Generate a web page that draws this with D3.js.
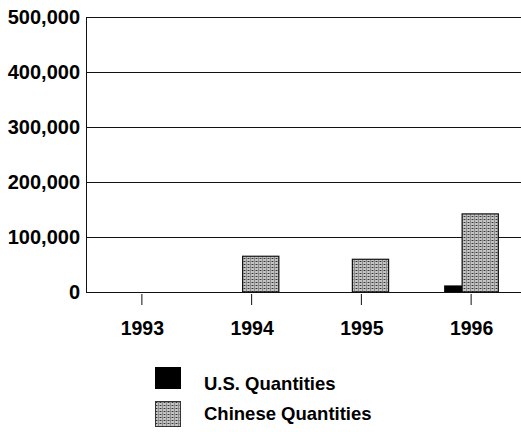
<!DOCTYPE html>
<html>
<head>
<meta charset="utf-8">
<script src="https://cdnjs.cloudflare.com/ajax/libs/d3/7.8.5/d3.min.js"></script>
<style>
  html, body { margin: 0; padding: 0; background: #fff; }
  svg { display: block; }
  text { font-family: "Liberation Sans", Arial, sans-serif; font-weight: bold; fill: #000; }
</style>
</head>
<body>
<svg id="chart" width="521" height="432"></svg>
<script>
const years = ["1993", "1994", "1995", "1996"];
const usQuantities = [0, 0, 0, 12000];
const chineseQuantities = [0, 65000, 59500, 142000];
const yTicks = [0, 100000, 200000, 300000, 400000, 500000];
const seriesNames = ["U.S. Quantities", "Chinese Quantities"];

const svg = d3.select("#chart");
const defs = svg.append("defs");
const pat = defs.append("pattern")
  .attr("id", "dots").attr("patternUnits", "userSpaceOnUse")
  .attr("width", 4).attr("height", 3);
pat.append("rect").attr("width", 4).attr("height", 3).attr("fill", "#c4c4c4");
pat.append("rect").attr("x", 0).attr("y", 0).attr("width", 4).attr("height", 1).attr("fill", "#8a8a8a");
pat.append("rect").attr("x", 0).attr("y", 0).attr("width", 1).attr("height", 1).attr("fill", "#333");
pat.append("rect").attr("x", 2).attr("y", 1.5).attr("width", 1).attr("height", 1).attr("fill", "#555");

const mLeft = 86, mRight = 526, mTop = 17, mBottom = 292;
const x = d3.scaleBand().domain(years).range([mLeft + 1, mRight]).padding(0);
const y = d3.scaleLinear().domain([0, 500000]).range([mBottom, mTop]);
const step = x.step();

// gridlines
svg.append("g").selectAll("line").data(yTicks).join("line")
  .attr("x1", mLeft).attr("x2", 521)
  .attr("y1", d => Math.round(y(d)) + 0.5).attr("y2", d => Math.round(y(d)) + 0.5)
  .attr("stroke", "#111").attr("stroke-width", 1);

// y axis line
svg.append("line").attr("x1", mLeft + 0.5).attr("x2", mLeft + 0.5)
  .attr("y1", mTop).attr("y2", mBottom + 0.5).attr("stroke", "#111");

// y tick labels
svg.append("g").selectAll("text").data(yTicks).join("text")
  .attr("x", 80).attr("y", d => y(d))
  .attr("dy", "0.37em").attr("text-anchor", "end")
  .style("font-size", "20px")
  .text(d => d3.format(",")(d));

// bars
const centers = years.map(yr => x(yr) + step / 2);
svg.append("g").selectAll("rect").data(years).join("rect")
  .attr("x", (d, i) => centers[i] - step * 0.246)
  .attr("width", step * 0.164)
  .attr("y", (d, i) => y(usQuantities[i]))
  .attr("height", (d, i) => y(0) - y(usQuantities[i]))
  .attr("fill", "#000");
svg.append("g").selectAll("rect").data(years).join("rect")
  .attr("x", (d, i) => centers[i] - step * 0.082)
  .attr("width", step * 0.33)
  .attr("y", (d, i) => y(chineseQuantities[i]))
  .attr("height", (d, i) => y(0) - y(chineseQuantities[i]))
  .attr("fill", "url(#dots)")
  .attr("stroke", (d, i) => chineseQuantities[i] > 0 ? "#111" : "none")
  .attr("stroke-width", 1.2);

// x ticks & labels
const xg = svg.append("g");
xg.selectAll("line").data(years).join("line")
  .attr("x1", (d, i) => centers[i]).attr("x2", (d, i) => centers[i])
  .attr("y1", 294).attr("y2", 305).attr("stroke", "#111");
xg.selectAll("text").data(years).join("text")
  .attr("x", (d, i) => centers[i] + 0.5).attr("y", 335)
  .attr("text-anchor", "middle").style("font-size", "19.5px")
  .text(d => d);

// legend
const lg = svg.append("g");
lg.append("rect").attr("x", 155).attr("y", 367).attr("width", 26).attr("height", 22).attr("fill", "#000");
lg.append("rect").attr("x", 155.5).attr("y", 401.5).attr("width", 25).attr("height", 25)
  .attr("fill", "url(#dots)").attr("stroke", "#333").attr("stroke-width", 1);
lg.append("text").attr("x", 204).attr("y", 390).style("font-size", "18.5px").text(seriesNames[0]);
lg.append("text").attr("x", 204).attr("y", 420).style("font-size", "18.5px").text(seriesNames[1]);
</script>
</body>
</html>
